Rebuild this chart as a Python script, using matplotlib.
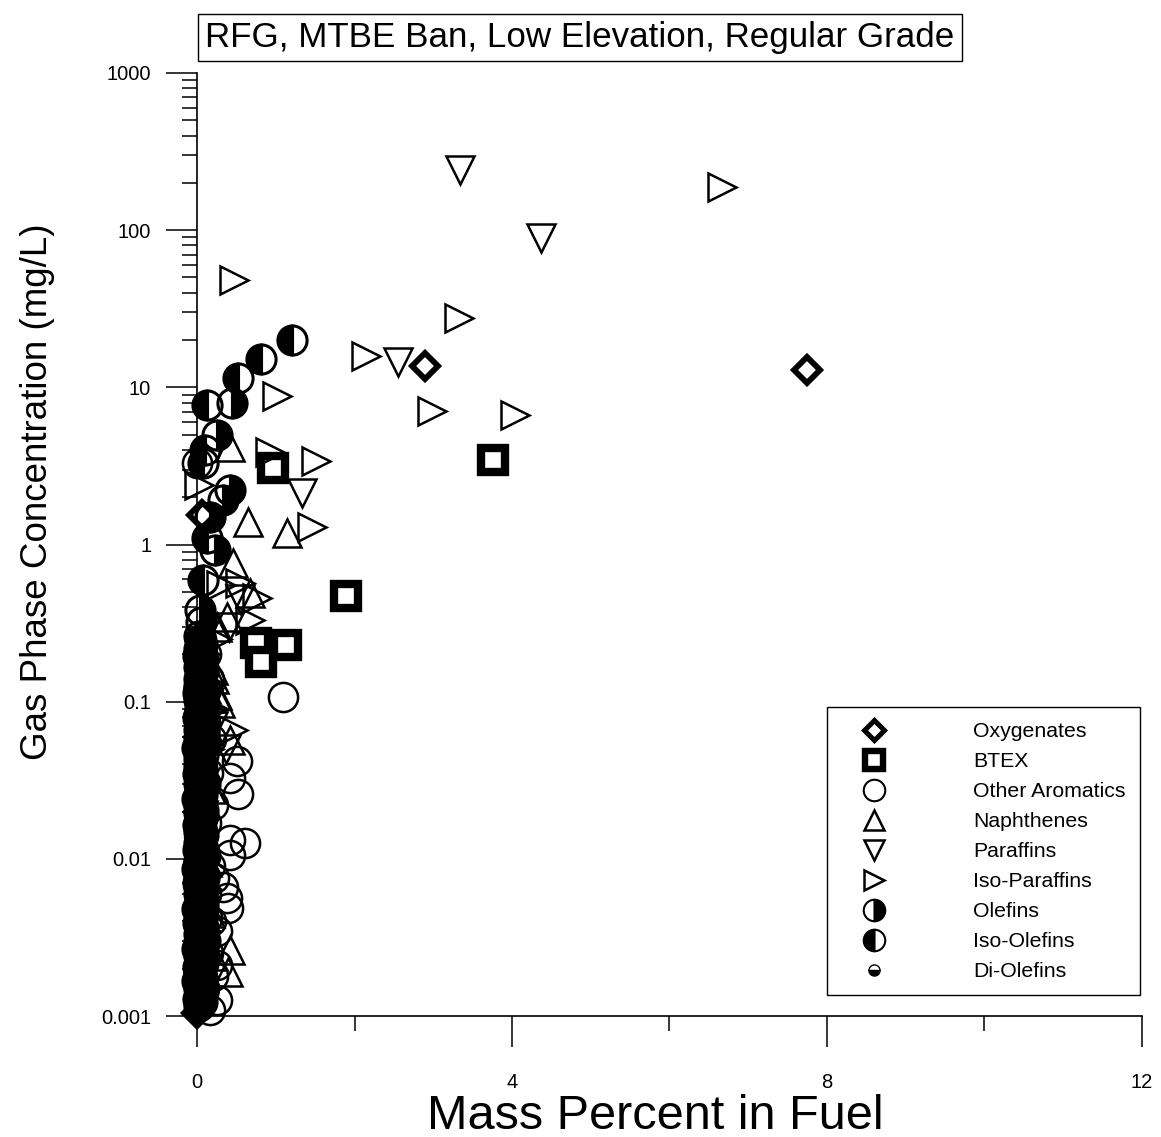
import matplotlib
matplotlib.use("Agg")
import matplotlib.pyplot as plt
import matplotlib.patches as mpatches
from matplotlib.lines import Line2D
import matplotlib.ticker as mticker

plt.rcParams["font.family"] = ["Liberation Sans", "DejaVu Sans"]

# ── Data (mass %, gas phase mg/L) ─────────────────────────────────────────────
oxy_x = [2.90, 7.75, 0.00, 0.05, 0.06, 0.03, 0.02]
oxy_y = [13.7, 12.9, 0.00105, 0.0013, 1.55, 0.06, 0.02]

btex_x = [3.76, 1.89, 0.97, 1.13, 0.75, 0.81]
btex_y = [3.45, 0.47, 3.07, 0.23, 0.236, 0.178]

arom_x = [1.09, 0.51, 0.42, 0.52, 0.42, 0.61, 0.42, 0.33, 0.38, 0.39, 0.25,
          0.00, 0.05, 0.12, 0.15, 0.10, 0.18, 0.14, 0.20, 0.12, 0.16, 0.22,
          0.11, 0.18, 0.25, 0.14, 0.20, 0.09, 0.26, 0.08, 0.13, 0.17]
arom_y = [0.107, 0.042, 0.0327, 0.026, 0.0132, 0.0126, 0.0106, 0.0066, 0.0056,
          0.0049, 0.00126, 3.3, 0.25, 0.20, 0.14, 0.075, 0.058, 0.035, 0.022,
          0.017, 0.009, 0.0075, 0.006, 0.004, 0.0035, 0.0025, 0.0018, 0.0015,
          0.0021, 0.0028, 0.0042, 0.0011]

naph_x = [1.14, 0.65, 0.42, 0.46, 0.67, 0.38, 0.25, 0.42, 0.29, 0.42, 0.39,
          0.12, 0.20, 0.08, 0.25, 0.15, 0.10, 0.18, 0.06, 0.13, 0.08, 0.16,
          0.10, 0.20, 0.22, 0.15]
naph_y = [1.18, 1.39, 4.2, 0.76, 0.49, 0.344, 0.30, 0.057, 0.098, 0.00263,
          0.0019, 0.12, 0.16, 0.09, 0.11, 0.065, 0.04, 0.028, 0.013, 0.0095,
          0.0055, 0.0045, 0.003, 0.0024, 0.14, 0.105]

par_x = [3.34, 4.37, 2.55, 1.33, 0.55, 0.40, 0.37, 0.05, 0.15, 0.10, 0.20,
         0.03, 0.12, 0.06, 0.08]
par_y = [241, 89, 14.5, 2.13, 0.45, 0.30, 0.05, 0.14, 0.10, 0.045, 0.07,
         0.011, 0.0052, 0.0021, 0.019]

ipar_x = [0.47, 6.67, 3.33, 2.15, 2.98, 4.04, 1.02, 1.51, 1.46, 0.93, 0.02,
          0.76, 0.67, 0.55, 0.46, 0.10, 0.18, 0.05, 0.08, 0.12, 0.22, 0.15,
          0.25, 0.30]
ipar_y = [48, 188, 27.6, 15.8, 7.07, 6.7, 8.8, 3.4, 1.3, 3.87, 2.4, 0.46,
          0.33, 0.57, 0.066, 0.20, 0.13, 0.03, 0.008, 0.0035, 0.09, 0.05,
          0.25, 0.55]

ole_x = [0.44, 0.25, 0.42, 0.33, 0.17, 0.23, 0.04,
         0.04, 0.08, 0.02, 0.06, 0.10, 0.03, 0.07, 0.05, 0.09, 0.02, 0.06,
         0.04, 0.08, 0.03, 0.10, 0.05, 0.02, 0.07, 0.04, 0.09, 0.03, 0.06,
         0.08, 0.02, 0.05, 0.10, 0.04, 0.07, 0.03]
ole_y = [7.9, 4.97, 2.22, 1.92, 1.50, 0.92, 0.383,
         0.0012, 0.0015, 0.0019, 0.0024, 0.0030, 0.0038, 0.0047, 0.0060,
         0.0075, 0.0095, 0.012, 0.015, 0.019, 0.024, 0.030, 0.038, 0.047,
         0.060, 0.075, 0.095, 0.12, 0.15, 0.19, 0.26, 0.32, 0.0105, 0.0027,
         0.053, 0.0066]

iole_x = [1.21, 0.81, 0.52, 0.13, 0.10, 0.08, 0.13, 0.08, 0.04, 0.04,
          0.03, 0.06, 0.01, 0.05, 0.07, 0.02, 0.04, 0.00, 0.06, 0.03,
          0.05, 0.01, 0.07, 0.04, 0.02, 0.06, 0.00, 0.05, 0.03, 0.07,
          0.02, 0.05, 0.08, 0.01, 0.04, 0.06, 0.03, 0.00, 0.07, 0.04,
          0.06, 0.02, 0.04, 0.07, 0.01, 0.05, 0.03, 0.06, 0.00, 0.04,
          0.03, 0.07, 0.05, 0.01, 0.06, 0.02, 0.04, 0.08, 0.03, 0.05,
          0.01, 0.04, 0.06, 0.02, 0.07, 0.03, 0.05, 0.00, 0.06, 0.04,
          0.05, 0.02, 0.07, 0.04, 0.01, 0.06, 0.03, 0.05, 0.02, 0.07,
          0.04, 0.00, 0.06, 0.03, 0.05, 0.08, 0.02, 0.04, 0.06, 0.01,
          0.03, 0.06, 0.04, 0.07, 0.02, 0.05, 0.01, 0.06, 0.03, 0.04,
          0.02, 0.05, 0.07, 0.03, 0.06, 0.04, 0.01, 0.05, 0.03, 0.06]
iole_y = [20.0, 15.2, 11.4, 7.7, 3.99, 3.30, 1.10, 0.594, 0.247, 0.184,
          0.00115, 0.00122, 0.00128, 0.00135, 0.00142, 0.00149, 0.00158,
          0.00166, 0.00174, 0.00185, 0.00194, 0.00206, 0.00216, 0.00229,
          0.00240, 0.00255, 0.00267, 0.00284, 0.00297, 0.00315, 0.00331,
          0.00351, 0.00368, 0.00390, 0.00410, 0.00434, 0.00456, 0.00483,
          0.00508, 0.00538, 0.00565, 0.00598, 0.00629, 0.00666, 0.00700,
          0.00742, 0.00779, 0.00826, 0.00867, 0.00919, 0.00965, 0.0102,
          0.0107, 0.0114, 0.0119, 0.0127, 0.0133, 0.0141, 0.0148, 0.0157,
          0.0165, 0.0176, 0.0183, 0.0195, 0.0204, 0.0217, 0.0227, 0.0242,
          0.0253, 0.0269, 0.0282, 0.0299, 0.0314, 0.0333, 0.0349, 0.0371,
          0.0389, 0.0412, 0.0433, 0.0459, 0.0482, 0.0511, 0.0537, 0.0568,
          0.0598, 0.0633, 0.0665, 0.0704, 0.0741, 0.0784, 0.0825, 0.0872,
          0.0918, 0.0971, 0.102, 0.108, 0.113, 0.120, 0.126, 0.134,
          0.140, 0.149, 0.156, 0.166, 0.174, 0.185, 0.194, 0.207, 0.217,
          0.231]

diole_x = [0.02, 0.05, 0.03, 0.04]
diole_y = [0.005, 0.02, 0.10, 0.0012]

# ── Figure & layout ───────────────────────────────────────────────────────────
fig = plt.figure(figsize=(11.61, 11.37), dpi=100)
ax = fig.add_axes([0.1697, 0.1064, 0.8139, 0.8294])

K = "black"
common = dict(linestyle="none", markeredgecolor=K, clip_on=False)

ax.plot(oxy_x, oxy_y, marker="D", markersize=13, markeredgewidth=4.2,
        markerfacecolor="white", **common)
ax.plot(btex_x, btex_y, marker="s", markersize=17, markeredgewidth=6,
        markerfacecolor="white", **common)
ax.plot(arom_x, arom_y, marker="o", markersize=21, markeredgewidth=1.8,
        markerfacecolor="none", **common)
ax.plot(naph_x, naph_y, marker="^", markersize=20, markeredgewidth=1.8,
        markerfacecolor="none", **common)
ax.plot(par_x, par_y, marker="v", markersize=20, markeredgewidth=1.8,
        markerfacecolor="none", **common)
ax.plot(ipar_x, ipar_y, marker=">", markersize=20, markeredgewidth=1.8,
        markerfacecolor="none", **common)
ax.plot(diole_x, diole_y, marker="o", markersize=8, markeredgewidth=1.2,
        fillstyle="bottom", markerfacecolor=K, markerfacecoloralt="none", **common)
ax.plot(ole_x, ole_y, marker="o", markersize=21, markeredgewidth=2.2,
        fillstyle="right", markerfacecolor=K, markerfacecoloralt="none", **common)
ax.plot(iole_x, iole_y, marker="o", markersize=21, markeredgewidth=2.2,
        fillstyle="left", markerfacecolor=K, markerfacecoloralt="none", **common)

# ── Axes ──────────────────────────────────────────────────────────────────────
ax.set_yscale("log")
ax.set_xlim(0, 12)
ax.set_ylim(0.001, 1000)
ax.spines["top"].set_visible(False)
ax.spines["right"].set_visible(False)
for sp in ["left", "bottom"]:
    ax.spines[sp].set_linewidth(1.2)

ax.set_xticks([0, 4, 8, 12])
ax.set_xticklabels(["0", "4", "8", "12"])
ax.xaxis.set_minor_locator(mticker.FixedLocator([2, 6, 10]))
ax.set_yticks([0.001, 0.01, 0.1, 1, 10, 100, 1000])
ax.set_yticklabels(["0.001", "0.01", "0.1", "1", "10", "100", "1000"])
ax.yaxis.set_minor_locator(mticker.LogLocator(base=10, subs=range(2, 10)))
ax.yaxis.set_minor_formatter(mticker.NullFormatter())

ax.tick_params(axis="both", which="major", direction="out", length=22,
               width=1.1, labelsize=14.5)
ax.tick_params(axis="both", which="minor", direction="out", length=11,
               width=1.1)
ax.tick_params(axis="x", which="major", pad=19)
ax.tick_params(axis="y", which="major", pad=11)

ax.set_xlabel("Mass Percent in Fuel", fontsize=35)
ax.set_ylabel("Gas Phase Concentration (mg/L)", fontsize=26.5)
ax.xaxis.set_label_coords(0.4847, -0.083)
ax.yaxis.set_label_coords(-0.150, 0.5557)

# ── Title box ─────────────────────────────────────────────────────────────────
fig.text(0.4995, 0.9667, "RFG, MTBE Ban, Low Elevation, Regular Grade",
         ha="center", va="center", fontsize=25.2,
         bbox=dict(boxstyle="square,pad=0.2", facecolor="white",
                   edgecolor=K, linewidth=1.0))

# ── Legend ────────────────────────────────────────────────────────────────────
frame = mpatches.Rectangle((0.6667, 0.0223), 0.3312, 0.3054,
                           transform=ax.transAxes, facecolor="white",
                           edgecolor=K, linewidth=1.0, zorder=5)
ax.add_patch(frame)

labels = ["Oxygenates", "BTEX", "Other Aromatics", "Naphthenes", "Paraffins",
          "Iso-Paraffins", "Olefins", "Iso-Olefins", "Di-Olefins"]
h = [
    Line2D([], [], marker="D", markersize=10, markeredgewidth=3.6,
           markerfacecolor="white", **common),
    Line2D([], [], marker="s", markersize=12.5, markeredgewidth=4.6,
           markerfacecolor="white", **common),
    Line2D([], [], marker="o", markersize=15.5, markeredgewidth=1.5,
           markerfacecolor="none", **common),
    Line2D([], [], marker="^", markersize=14.5, markeredgewidth=1.8,
           markerfacecolor="none", **common),
    Line2D([], [], marker="v", markersize=14.5, markeredgewidth=1.8,
           markerfacecolor="none", **common),
    Line2D([], [], marker=">", markersize=14.5, markeredgewidth=1.8,
           markerfacecolor="none", **common),
    Line2D([], [], marker="o", markersize=15.5, markeredgewidth=1.5,
           fillstyle="right", markerfacecolor=K, markerfacecoloralt="white", **common),
    Line2D([], [], marker="o", markersize=15.5, markeredgewidth=1.5,
           fillstyle="left", markerfacecolor=K, markerfacecoloralt="white", **common),
    Line2D([], [], marker="o", markersize=8, markeredgewidth=1.0,
           fillstyle="bottom", markerfacecolor=K, markerfacecoloralt="white", **common),
]
leg = ax.legend(h, labels, loc="upper left",
                bbox_to_anchor=((856 - 197) / 945, (1016 - 722) / 943),
                frameon=False, fontsize=15.3, borderpad=0, borderaxespad=0,
                handlelength=1.7, handletextpad=3.82, labelspacing=0.52)
leg.set_zorder(6)

fig.savefig("out.png", dpi=100, facecolor="white")
